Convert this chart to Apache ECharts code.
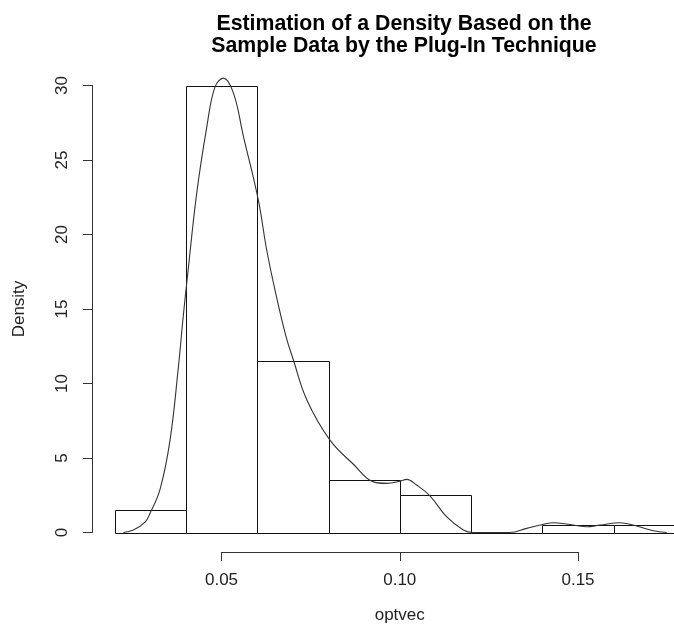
<!DOCTYPE html>
<html><head><meta charset="utf-8">
<script src="https://cdn.jsdelivr.net/npm/echarts@6/dist/echarts.min.js"></script>
<style>html,body{margin:0;padding:0;background:#fff}#c{width:674px;height:629px}</style>
</head><body><div id="c"></div>
<script>
// Histogram breaks and densities
const breaks = [0.02, 0.04, 0.06, 0.08, 0.10, 0.12, 0.14, 0.16, 0.18];
const barDensity = [1.5, 30, 11.5, 3.5, 2.5, 0, 0.5, 0.5];
// Kernel density estimate (plug-in bandwidth)
const curveX = [0.0224, 0.0252, 0.0285, 0.0299, 0.0327, 0.0355, 0.0378, 0.0392, 0.0404, 0.0430, 0.0458, 0.0481, 0.0505, 0.0533, 0.0561, 0.0603, 0.0626, 0.0654, 0.0680, 0.0701, 0.0739, 0.0804, 0.0869, 0.0926, 0.0963, 0.1001, 0.1019, 0.1047, 0.1085, 0.1131, 0.1178, 0.1206, 0.1309, 0.1356, 0.1403, 0.1431, 0.1468, 0.1524, 0.1562, 0.1618, 0.1655, 0.1711, 0.1749];
const curveY = [0.0, 0.17, 0.7, 1.3, 2.9, 6.2, 11.0, 14.5, 17.2, 22.8, 27.2, 29.9, 30.5, 29.5, 26.6, 22.3, 19.0, 15.8, 13.2, 11.6, 8.9, 6.2, 4.6, 3.4, 3.3, 3.45, 3.57, 3.19, 2.45, 1.06, 0.17, 0.0, 0.0, 0.28, 0.55, 0.66, 0.57, 0.39, 0.5, 0.66, 0.5, 0.12, 0.0];
// Axis ticks
const xTicks = [0.05, 0.10, 0.15];
const yTicks = [0, 5, 10, 15, 20, 25, 30];

const chart = echarts.init(document.getElementById('c'), null, {renderer: 'canvas'});
const FONT = 'Liberation Sans, Arial, sans-serif';
const barData = barDensity.map((d, i) => [breaks[i], breaks[i + 1], d]);
const curveData = curveX.map((x, i) => [x, curveY[i]]);

chart.setOption({
  animation: false,
  backgroundColor: '#fff',
  title: {
    text: 'Estimation of a Density Based on the\nSample Data by the Plug-In Technique',
    left: 399, top: 7.5, textAlign: 'center',
    textStyle: {fontFamily: FONT, fontSize: 21.3, fontWeight: 'bold', color: '#000', lineHeight: 22.5}
  },
  grid: [
    {left: 92, top: 60, width: 582, height: 490.7},
    {left: 92, top: 85.5, width: 100, height: 447},
    {left: 221.5, top: 500, width: 356.5, height: 52}
  ],
  xAxis: [
    {gridIndex: 0, type: 'value', min: 0.0136, max: 0.17694, show: false},
    {gridIndex: 1, type: 'value', min: 0, max: 1, show: false},
    {gridIndex: 2, type: 'value', min: xTicks[0], max: xTicks[xTicks.length - 1], interval: 0.05,
      name: 'optvec', nameLocation: 'middle', nameGap: 55,
      nameTextStyle: {fontFamily: FONT, fontSize: 17, color: '#222'},
      axisLine: {show: true, onZero: false, lineStyle: {color: '#333', width: 1}},
      axisTick: {show: true, length: 9, inside: false, lineStyle: {color: '#333'}},
      axisLabel: {margin: 20, fontFamily: FONT, fontSize: 17, color: '#222',
        formatter: v => v.toFixed(2)},
      splitLine: {show: false}}
  ],
  yAxis: [
    {gridIndex: 0, type: 'value', min: -1.22, max: 31.72, show: false},
    {gridIndex: 1, type: 'value', min: yTicks[0], max: yTicks[yTicks.length - 1], interval: 5,
      name: 'Density', nameLocation: 'middle', nameGap: 64, nameRotate: 90,
      nameTextStyle: {fontFamily: FONT, fontSize: 17, color: '#222'},
      axisLine: {show: true, onZero: false, lineStyle: {color: '#333', width: 1}},
      axisTick: {show: true, length: 9, inside: false, lineStyle: {color: '#333'}},
      axisLabel: {rotate: 90, margin: 21, fontFamily: FONT, fontSize: 17, color: '#222'},
      splitLine: {show: false}},
    {gridIndex: 2, type: 'value', min: 0, max: 1, show: false}
  ],
  series: [
    {
      type: 'custom', xAxisIndex: 0, yAxisIndex: 0, data: barData, clip: false,
      renderItem: function (params, api) {
        const p0 = api.coord([api.value(0), api.value(2)]);
        const p1 = api.coord([api.value(1), 0]);
        const x0 = Math.round(p0[0]) + 0.5, x1 = Math.round(p1[0]) + 0.5;
        const y0 = Math.round(p0[1]) + 0.5, y1 = Math.round(p1[1]) + 0.5;
        return {type: 'rect', shape: {x: x0, y: y0, width: x1 - x0, height: y1 - y0},
          style: {fill: 'none', stroke: '#111', lineWidth: 1}};
      }
    },
    {
      type: 'line', xAxisIndex: 0, yAxisIndex: 0, data: curveData,
      showSymbol: false, smooth: 0.4, clip: false,
      lineStyle: {color: '#333', width: 1.1}
    }
  ]
});
</script>
</body></html>
